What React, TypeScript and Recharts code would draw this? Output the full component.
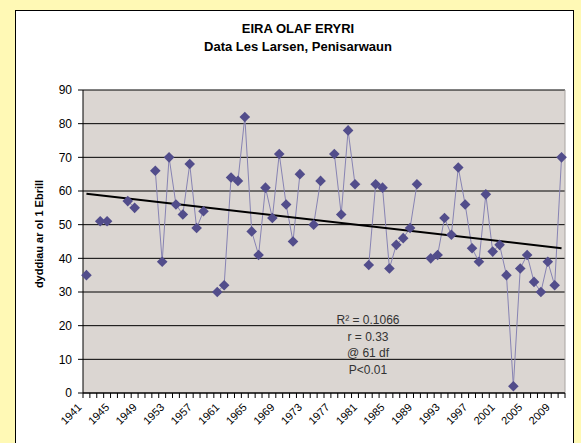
import React from "react";
import { LineChart, Line, XAxis, YAxis, CartesianGrid } from "recharts";

const years = [
  1941, 1942, 1943, 1944, 1945, 1946, 1947, 1948, 1949, 1950,
  1951, 1952, 1953, 1954, 1955, 1956, 1957, 1958, 1959, 1960,
  1961, 1962, 1963, 1964, 1965, 1966, 1967, 1968, 1969, 1970,
  1971, 1972, 1973, 1974, 1975, 1976, 1977, 1978, 1979, 1980,
  1981, 1982, 1983, 1984, 1985, 1986, 1987, 1988, 1989, 1990,
  1991, 1992, 1993, 1994, 1995, 1996, 1997, 1998, 1999, 2000,
  2001, 2002, 2003, 2004, 2005, 2006, 2007, 2008, 2009, 2010,
];

// dyddiau ar ol 1 Ebrill (null = no record)
const days: (number | null)[] = [
  35, null, 51, 51, null, null, 57, 55, null, null,
  66, 39, 70, 56, 53, 68, 49, 54, null, 30,
  32, 64, 63, 82, 48, 41, 61, 52, 71, 56,
  45, 65, null, 50, 63, null, 71, 53, 78, 62,
  null, 38, 62, 61, 37, 44, 46, 49, 62, null,
  40, 41, 52, 47, 67, 56, 43, 39, 59, 42,
  44, 35, 2, 37, 41, 33, 30, 39, 32, 70,
];

const trendYears = [1941, 2010];
const trendValues = [59.2, 43.0];

const yTicks = [0, 10, 20, 30, 40, 50, 60, 70, 80, 90];
const labelEvery = 4;

const annotationLines = ["R\u00B2 = 0.1066", "r = 0.33", "@ 61 df", "P<0.01"];

const data = years.map((y, i) => {
  const ti = trendYears.indexOf(y);
  return { year: y, days: days[i], trend: ti >= 0 ? trendValues[ti] : null };
});

const FONT = '"Liberation Sans", Arial, sans-serif';
const WIDTH = 581;
const HEIGHT = 443;
const MARGIN = { top: 90, right: 16, bottom: 10, left: 53 };
const Y_AXIS_W = 30;
const PLOT_W = WIDTH - MARGIN.left - MARGIN.right - Y_AXIS_W;
const STEP = PLOT_W / years.length;

const XTick = (props: any) => {
  const { x, y, payload, index } = props;
  const yr = Number(payload.value);
  const showLabel = (yr - years[0]) % labelEvery === 0;
  const lx = x - 4;
  const ly = y + 15;
  return (
    <g>
      <line x1={x - STEP / 2} x2={x - STEP / 2} y1={y} y2={y + 5} stroke="#000" strokeWidth={1} />
      {index === years.length - 1 && (
        <line x1={x + STEP / 2} x2={x + STEP / 2} y1={y} y2={y + 5} stroke="#000" strokeWidth={1} />
      )}
      {showLabel && (
        <text
          x={lx}
          y={ly}
          textAnchor="end"
          fontSize={11}
          fontFamily={FONT}
          fill="#000"
          transform={`rotate(-45 ${lx} ${ly})`}
        >
          {yr}
        </text>
      )}
    </g>
  );
};

const Diamond = (props: any) => {
  const { cx, cy, value } = props;
  if (value == null || cx == null || cy == null) return <g />;
  const r = 5.3;
  return (
    <path
      d={`M${cx},${cy - r} L${cx + r},${cy} L${cx},${cy + r} L${cx - r},${cy} Z`}
      fill="#524D8B"
      stroke="none"
    />
  );
};

export default function App() {
  return (
    <div
      style={{
        position: "absolute",
        left: 0,
        top: 0,
        width: WIDTH,
        height: HEIGHT,
        background: "#FFF9B5",
        overflow: "hidden",
        fontFamily: FONT,
      }}
    >
      <div
        style={{
          position: "absolute",
          left: 15,
          top: 10,
          width: 557,
          height: 470,
          background: "#fff",
          border: "1px solid #000",
        }}
      />
      <div style={{ position: "absolute", left: 0, top: 0 }}>
        <LineChart width={WIDTH} height={HEIGHT} data={data} margin={MARGIN}>
          <CartesianGrid
            vertical={false}
            horizontal={true}
            stroke="#000"
            strokeWidth={1}
            fill="#DBD6D2"
            fillOpacity={1}
          />
          <CartesianGrid
            horizontal={false}
            vertical={true}
            stroke="#A8A4A0"
            verticalCoordinatesGenerator={({ offset }: any) => [offset.left + offset.width]}
          />
          <XAxis
            dataKey="year"
            type="category"
            interval={0}
            height={40}
            tickSize={0}
            tickMargin={0}
            tickLine={false}
            axisLine={{ stroke: "#000" }}
            padding={{ left: STEP / 2, right: STEP / 2 }}
            tick={<XTick />}
          />
          <YAxis
            domain={[0, 90]}
            ticks={yTicks}
            interval={0}
            width={Y_AXIS_W}
            tickSize={5}
            tickMargin={6}
            axisLine={{ stroke: "#000" }}
            tickLine={{ stroke: "#000" }}
            tick={{ fontSize: 12, fill: "#000", fontFamily: FONT }}
          />
          <Line
            dataKey="days"
            type="linear"
            stroke="#8783B3"
            strokeWidth={1}
            connectNulls={false}
            dot={<Diamond />}
            activeDot={false}
            isAnimationActive={false}
          />
          <Line
            dataKey="trend"
            type="linear"
            stroke="#000"
            strokeWidth={2}
            connectNulls={true}
            dot={false}
            activeDot={false}
            isAnimationActive={false}
          />
        </LineChart>
      </div>
      <div
        style={{
          position: "absolute",
          left: 298,
          top: 20,
          transform: "translateX(-50%)",
          textAlign: "center",
          fontWeight: "bold",
          fontSize: 13,
          lineHeight: "18px",
          whiteSpace: "nowrap",
          color: "#000",
        }}
      >
        <div>EIRA OLAF ERYRI</div>
        <div>Data Les Larsen, Penisarwaun</div>
      </div>
      <div
        style={{
          position: "absolute",
          left: 39,
          top: 234,
          transform: "translate(-50%, -50%) rotate(-90deg)",
          fontWeight: "bold",
          fontSize: 11,
          whiteSpace: "nowrap",
          color: "#000",
        }}
      >
        dyddiau ar ol 1 Ebrill
      </div>
      <div
        style={{
          position: "absolute",
          left: 368,
          top: 312,
          transform: "translateX(-50%)",
          textAlign: "center",
          fontSize: 12,
          lineHeight: "16.7px",
          whiteSpace: "nowrap",
          color: "#333",
        }}
      >
        {annotationLines.map((t) => (
          <div key={t}>{t}</div>
        ))}
      </div>
    </div>
  );
}
